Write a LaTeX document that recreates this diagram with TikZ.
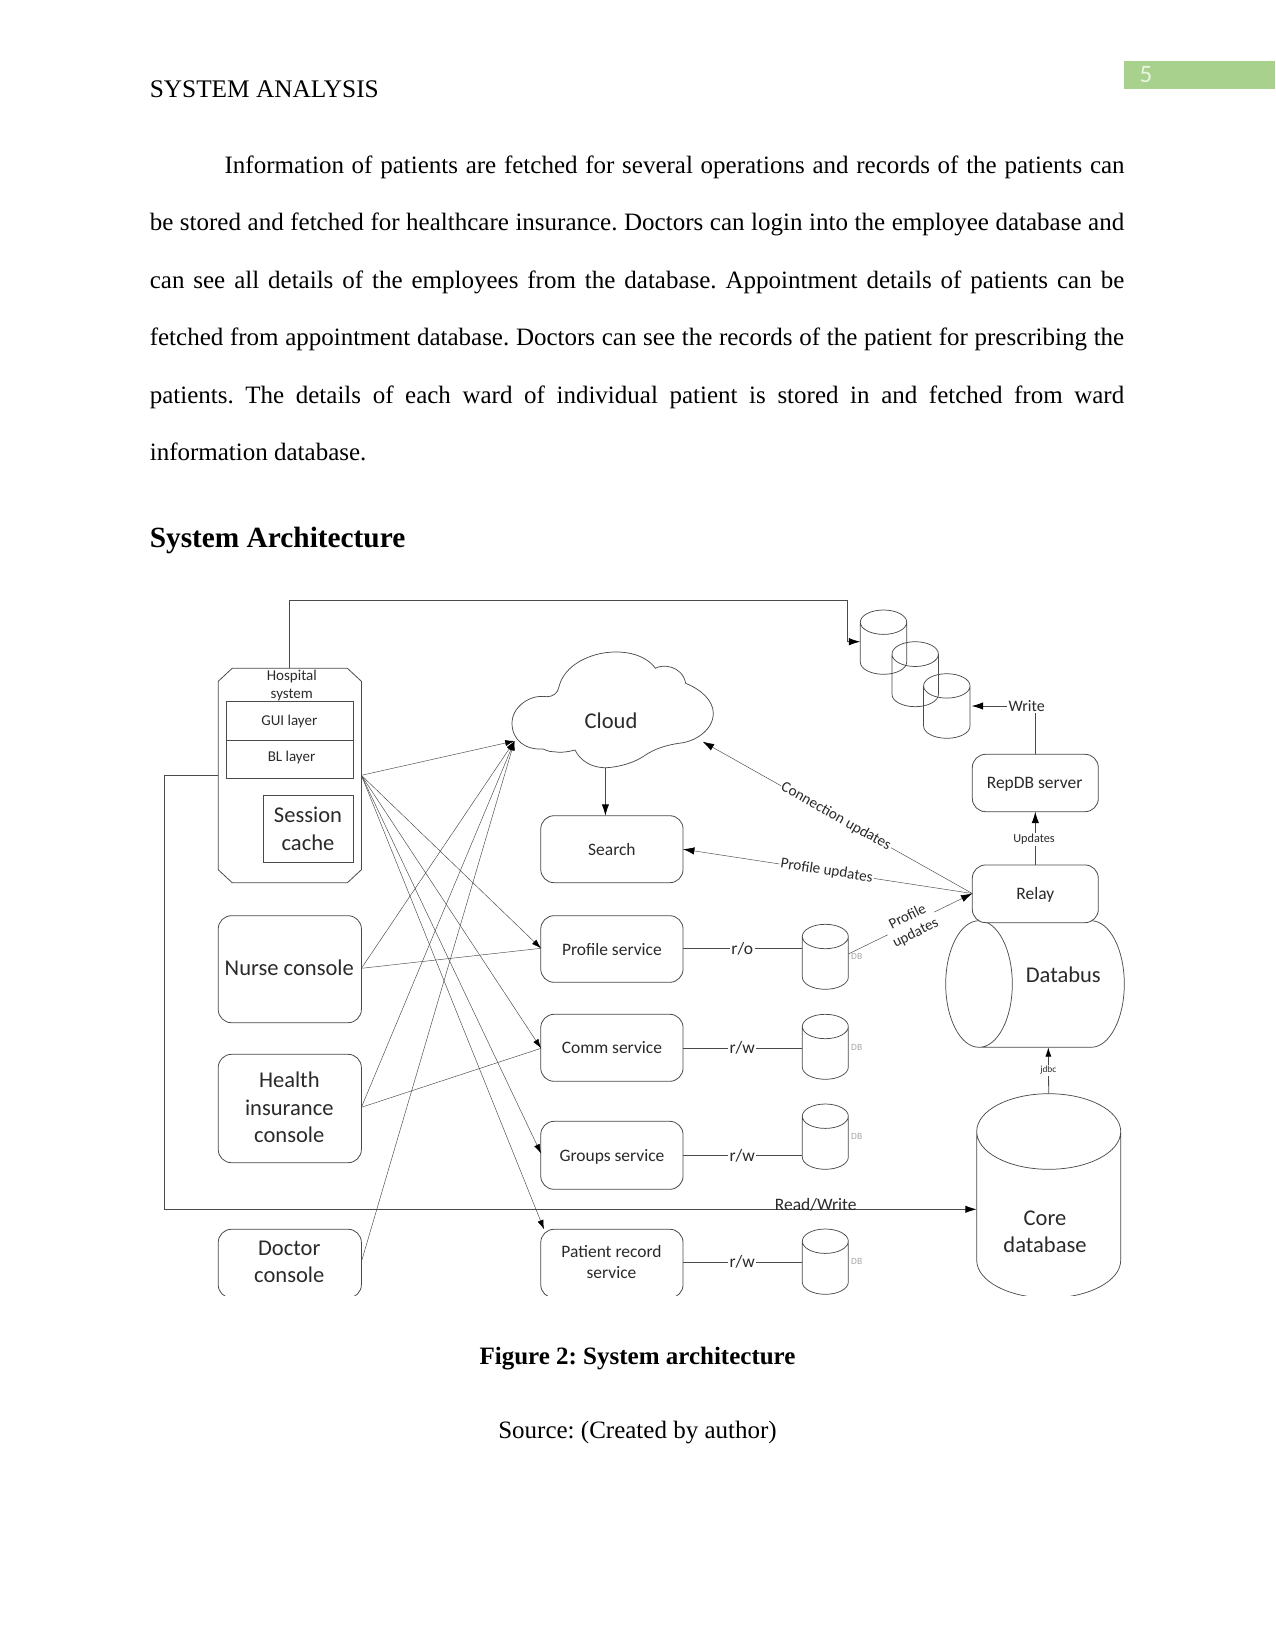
\documentclass[tikz,border=0pt]{standalone}
\usepackage{fontspec}
\setmainfont{Liberation Serif}
\newfontfamily\diagfont{Carlito}
\usetikzlibrary{arrows.meta,calc}
\definecolor{bandgreen}{HTML}{A9D18E}
\definecolor{bandtext}{HTML}{E9F4DF}
\definecolor{inkline}{HTML}{4A4A4A}
\definecolor{inktext}{HTML}{2A2A2A}
\frenchspacing
\tikzset{
  x=0.75pt, y=-0.75pt,
  bsize/.style n args={2}{minimum width={(#1)*0.75pt}, minimum height={(#2)*0.75pt}},
  dnode/.style={inner sep=0pt, outer sep=0pt, align=center, text=inktext},
  svcbox/.style={dnode, draw=inkline, line width=0.6pt, rounded corners=10pt, fill=white},
  plainbox/.style={dnode, draw=inkline, line width=0.7pt},
  bigtext/.style={font=\diagfont\fontsize{16.9}{20.6}\selectfont},
  midtext/.style={font=\diagfont\fontsize{13.1}{16.1}\selectfont},
  smalltext/.style={font=\diagfont\fontsize{11.25}{13.5}\selectfont},
  wire/.style={draw=inkline, line width=0.6pt},
  fanwire/.style={draw=inkline, line width=0.35pt},
  bighead/.style={-{Latex[length=8.5pt,width=5.5pt,black]}},
  fanhead/.style={-{Latex[length=7pt,width=4.5pt,black]}},
  cylline/.style={draw=inkline, line width=0.55pt},
  wlabel/.style={dnode, fill=white, inner sep=1pt},
  dbtag/.style={dnode, text=gray!70, font=\diagfont\fontsize{7.1}{8}\selectfont},
  pagetext/.style={inner sep=0pt, outer sep=0pt, anchor=base west, font=\fontsize{18.75}{22}\selectfont},
  centertext/.style={inner sep=0pt, outer sep=0pt, anchor=base, font=\fontsize{18.75}{22}\selectfont\bfseries},
}
% Upright drum: name, centre x, top y, bottom y, x radius, y radius
\newcommand\dbcyl[6]{%
  \node[inner sep=0pt, outer sep=0pt, bsize={2*#5}{#4-#3}] (#1) at (#2,{(#3+#4)/2}) {};
  \pgfmathsetmacro\kx{0.5523*#5}\pgfmathsetmacro\ky{0.5523*#6}%
  \draw[cylline] ({#2-#5},{#3+#6})
    .. controls ({#2-#5},{#3+#6-\ky}) and ({#2-\kx},{#3}) .. ({#2},{#3})
    .. controls ({#2+\kx},{#3}) and ({#2+#5},{#3+#6-\ky}) .. ({#2+#5},{#3+#6})
    .. controls ({#2+#5},{#3+#6+\ky}) and ({#2+\kx},{#3+2*#6}) .. ({#2},{#3+2*#6})
    .. controls ({#2-\kx},{#3+2*#6}) and ({#2-#5},{#3+#6+\ky}) .. ({#2-#5},{#3+#6})
    -- ({#2-#5},{#4-#6})
    .. controls ({#2-#5},{#4-#6+\ky}) and ({#2-\kx},{#4}) .. ({#2},{#4})
    .. controls ({#2+\kx},{#4}) and ({#2+#5},{#4-#6+\ky}) .. ({#2+#5},{#4-#6})
    -- ({#2+#5},{#3+#6});
}
\begin{document}
\begin{tikzpicture}
\useasboundingbox (0,0) rectangle (1275,1651);

% ---- running head ----
\fill[bandgreen] (1124.4,60.7) rectangle (1275,89.3);
\node[inner sep=0pt, text=bandtext, font=\diagfont\fontsize{18.75}{22}\selectfont] (pagenum) at (1146,74.5) {5};
\node[pagetext, font=\fontsize{19}{22}\selectfont] (runhead) at (149.8,98) {SYSTEM ANALYSIS};

% ---- body paragraph ----
\node[pagetext] (l1) at (224.6,173.5) {\hbox to 675pt{Information of patients are fetched for several operations and records of the patients can}};
\node[pagetext] (l2) at (149.8,230.5) {\hbox to 730.8pt{be stored and fetched for healthcare insurance. Doctors can login into the employee database and}};
\node[pagetext] (l3) at (149.8,288.5) {\hbox to 730.8pt{can see all details of the employees from the database. Appointment details of patients can be}};
\node[pagetext] (l4) at (149.8,345.5) {\hbox to 730.8pt{fetched from appointment database. Doctors can see the records of the patient for prescribing the}};
\node[pagetext] (l5) at (149.8,403) {\hbox to 730.8pt{patients. The details of each ward of individual patient is stored in and fetched from ward}};
\node[pagetext] (l6) at (149.8,460) {information database.};
\node[pagetext, font=\fontsize{22}{26}\selectfont\bfseries] (heading) at (149.8,547) {System Architecture};
\node[centertext] (caption) at (637.5,1364) {Figure 2: System architecture};
\node[centertext, font=\fontsize{18.75}{22}\selectfont] (source) at (637.5,1438) {Source: (Created by author)};

% ---- fixed attachment points ----
\coordinate (hospOut) at (361.4,775.3);
\coordinate (hospLeft) at (218.2,775.3);
\coordinate (busTurn) at (164.3,1209.3);
\coordinate (coreIn) at (976.7,1209.3);
\coordinate (topTurn) at (847.3,600.3);
\coordinate (repIn) at (860.3,641.7);
\coordinate (repOut) at (971.7,706);
\coordinate (cloudIn) at (514.5,741);
\coordinate (cloudFoot) at (605.4,767.7);
\coordinate (cloudEdge) at (702.7,741.7);
\coordinate (profIn) at (541,948.3);
\coordinate (commIn) at (541,1048.3);
\coordinate (grpIn) at (541,1153.5);
\coordinate (patIn) at (544,1229.3);
\coordinate (nurseOut) at (361.4,968.3);
\coordinate (healthOut) at (361.4,1107.3);
\coordinate (docOut) at (361.4,1261.7);
\coordinate (relayPort) at (972.3,893.5);
\coordinate (dbProfOut) at (848.3,954);
\coordinate (busBottom) at (1048.3,1047.3);
\coordinate (patRow) at (0,1262.3);

% ---- hospital system: octagon with its inner layers ----
\node[inner sep=0pt, outer sep=0pt, bsize={143.2}{214.4}] (hosp) at (289.8,775.5) {};
\draw[draw=inkline, line width=0.6pt]
  (232.2,668.3) -- (347.4,668.3) -- (361.4,681.3) -- (361.4,869.7) -- (347.4,882.7)
  -- (232.2,882.7) -- (218.2,869.7) -- (218.2,681.3) -- cycle;
\node[dnode, smalltext] (hospname) at (291.8,685.3) {Hospital\\system};
\node[plainbox, bsize={126.4}{39}] (gui) at (290,720.8) {};
\node[plainbox, bsize={126.4}{37.7}] (bl) at (290,759.2) {};
\node[dnode, smalltext] (guiname) at (289.3,721.5) {GUI layer};
\node[dnode, smalltext] (blname) at (291.5,757.8) {BL layer};
\node[plainbox, bigtext, bsize={90}{67.4}] (session) at (308,829) {Session\\cache};

% ---- consoles and services ----
\node[svcbox, bsize={143.2}{107}] (nurse) at (289.8,969.2) {};
\node[dnode, bigtext] (nursename) at (289.3,968.2) {Nurse console};
\node[svcbox, bsize={143.2}{108.4}] (health) at (289.8,1108.5) {};
\node[dnode, bigtext] (healthname) at (289.3,1107.7) {Health\\insurance\\console};

\node[svcbox, midtext, bsize={142.3}{67}] (search) at (611.9,849.2) {Search};
\node[svcbox, midtext, bsize={142.3}{66.6}] (profile) at (611.9,949) {Profile service};
\node[svcbox, midtext, bsize={142.3}{67}] (comm) at (611.9,1047.8) {Comm service};
\node[svcbox, bsize={142.3}{68}] (groups) at (611.9,1155.3) {};
\node[dnode, midtext] (groupsname) at (612,1156.8) {Groups service};

\begin{scope}
  \clip (100,1000) rectangle (1200,1295.7);
  \node[svcbox, bsize={143.2}{68.7}] (doctor) at (289.8,1263.6) {};
  \node[svcbox, bsize={142.3}{68.7}] (patient) at (611.9,1263.6) {};
  \dbcyl{core}{1048.7}{1093.7}{1298}{72}{37.8}
\end{scope}
\node[dnode, bigtext] (doctorname) at (289.3,1261.8) {Doctor\\console};
\node[dnode, midtext] (patientname) at (611.5,1261.8) {Patient record\\service};
\node[dnode, bigtext] (corename) at (1045,1232) {Core\\database};

% ---- cloud ----
\draw[cylline] (512,723)
  .. controls (512,707) and (530,694) .. (546.4,696.7)
  .. controls (553,697) and (558,693) .. (559,686.7)
  .. controls (568,650) and (635,640) .. (655.4,668.3)
  .. controls (662,664) and (682,665) .. (685.7,683.3)
  .. controls (700,689) and (713.3,700) .. (713.3,713.3)
  .. controls (713.3,730) and (695,742) .. (678.6,743.3)
  .. controls (668,745) and (655,748) .. (643,756.7)
  .. controls (630,765) and (612,768) .. (603.6,767.7)
  .. controls (590,767) and (580,760) .. (575,750)
  .. controls (568,752) and (560,753) .. (553.6,751.7)
  .. controls (549,752) and (546,750) .. (543,749)
  .. controls (525,750) and (512,740) .. (512,723) -- cycle;
\node[dnode, bigtext] (cloud) at (611,720.7) {Cloud};

% ---- replica drums and service drums ----
\dbcyl{repA}{883.5}{610}{674.3}{23.2}{12.2}
\dbcyl{repB}{915.2}{641.7}{706.7}{23.2}{12.4}
\dbcyl{repC}{946.8}{673.7}{738.3}{23.2}{12.2}
\dbcyl{dbProf}{825.3}{924.3}{989.3}{23}{12.2}
\dbcyl{dbComm}{825.3}{1014.3}{1079.3}{23}{12.2}
\dbcyl{dbGrp}{825.3}{1104}{1169.3}{23}{12.2}
\dbcyl{dbPat}{825.3}{1229}{1294.3}{23}{12.2}

% ---- databus (a drum on its side) ----
\draw[cylline] (979,920.7)
  .. controls (997.4,920.7) and (1012.3,949) .. (1012.3,984)
  .. controls (1012.3,1019) and (997.4,1047.3) .. (979,1047.3)
  .. controls (960.6,1047.3) and (945.7,1019) .. (945.7,984)
  .. controls (945.7,949) and (960.6,920.7) .. (979,920.7)
  -- (1091,920.7)
  .. controls (1109.4,920.7) and (1124.3,949) .. (1124.3,984)
  .. controls (1124.3,1019) and (1109.4,1047.3) .. (1091,1047.3)
  -- (979,1047.3);
\node[dnode, bigtext] (databus) at (1063.3,975) {Databus};

\node[svcbox, bsize={126}{57.4}] (repdb) at (1035.3,783) {};
\node[svcbox, bsize={126}{57.7}] (relay) at (1035.3,893.8) {};
\node[dnode, midtext] (repdbname) at (1034.6,784) {RepDB server};
\node[dnode, midtext] (relayname) at (1035.3,894.8) {Relay};

% ---- fan-out connectors ----
\draw[fanwire, fanhead] (hospOut) -- (cloudIn);
\draw[fanwire, fanhead] (hospOut) -- (profIn);
\draw[fanwire, fanhead] (hospOut) -- (commIn);
\draw[fanwire, fanhead] (hospOut) -- (grpIn);
\draw[fanwire, fanhead] (hospOut) -- (patIn);
\draw[fanwire, fanhead] (nurseOut) -- (cloudIn);
\draw[fanwire] (nurseOut) -- (profIn);
\draw[fanwire, fanhead] (healthOut) -- (cloudIn);
\draw[fanwire] (healthOut) -- (commIn);
\draw[fanwire, fanhead] (docOut) -- (cloudIn);

% ---- main connectors ----
\draw[wire, bighead] (hosp.north) |- (topTurn) |- (repIn);
\draw[wire, bighead] (hospLeft) -| (busTurn) -- (coreIn);
\draw[wire, bighead] (cloudFoot) -- (cloudFoot |- search.north);
\draw[wire] (profile.east |- profIn) -- (dbProf.west |- profIn);
\draw[wire] (comm.east |- commIn) -- (dbComm.west |- commIn);
\draw[wire] (groups.east) -- (dbGrp.west |- groups.east);
\draw[wire] (patient.east |- patRow) -- (dbPat.west |- patRow);
\draw[wire, bighead] (repdb.north) -- (repdb.north |- repOut) -- (repOut);
\draw[wire, bighead] (relay.north) -- (repdb.south);
\draw[fanwire, bighead] (relayPort) -- (cloudEdge);
\draw[fanwire, bighead] (relayPort) -- (search.east);
\draw[fanwire, bighead] (dbProfOut) -- (relayPort);
\draw[wire, fanhead] (core.north) -- (busBottom);

% ---- connector labels ----
\node[wlabel, midtext] (roP) at (742.3,948.3) {r/o};
\node[wlabel, midtext] (rwC) at (742.3,1047.5) {r/w};
\node[wlabel, midtext] (rwG) at (742.3,1155.5) {r/w};
\node[wlabel, midtext] (rwP) at (742.3,1262) {r/w};
\node[dnode, midtext] (rwbus) at (815.7,1204.5) {Read/Write};
\node[wlabel, font=\diagfont\fontsize{12}{14}\selectfont] (writeLbl) at (1026.7,706) {Write};
\node[wlabel, font=\diagfont\fontsize{9.2}{11}\selectfont] (updLbl) at (1034,839.2) {Updates};
\node[wlabel, font=\diagfont\fontsize{7}{8}\selectfont] (jdbcLbl) at (1048.3,1070.2) {jdbc};
\node[wlabel, font=\diagfont\fontsize{11.4}{13.5}\selectfont, rotate=-29.4] (connLbl) at (836,816.7) {Connection updates};
\node[wlabel, font=\diagfont\fontsize{11.4}{13.5}\selectfont, rotate=-8.8] (profLbl) at (826.7,871) {Profile updates};
\node[wlabel, smalltext, rotate=26.5] (prof2Lbl) at (911.7,925) {Profile\\updates};
\node[dbtag] (dbL1) at (856.7,956.7) {DB};
\node[dbtag] (dbL2) at (856.7,1047.3) {DB};
\node[dbtag] (dbL3) at (856.7,1136.7) {DB};
\node[dbtag] (dbL4) at (856.7,1261) {DB};
\end{tikzpicture}
\end{document}
